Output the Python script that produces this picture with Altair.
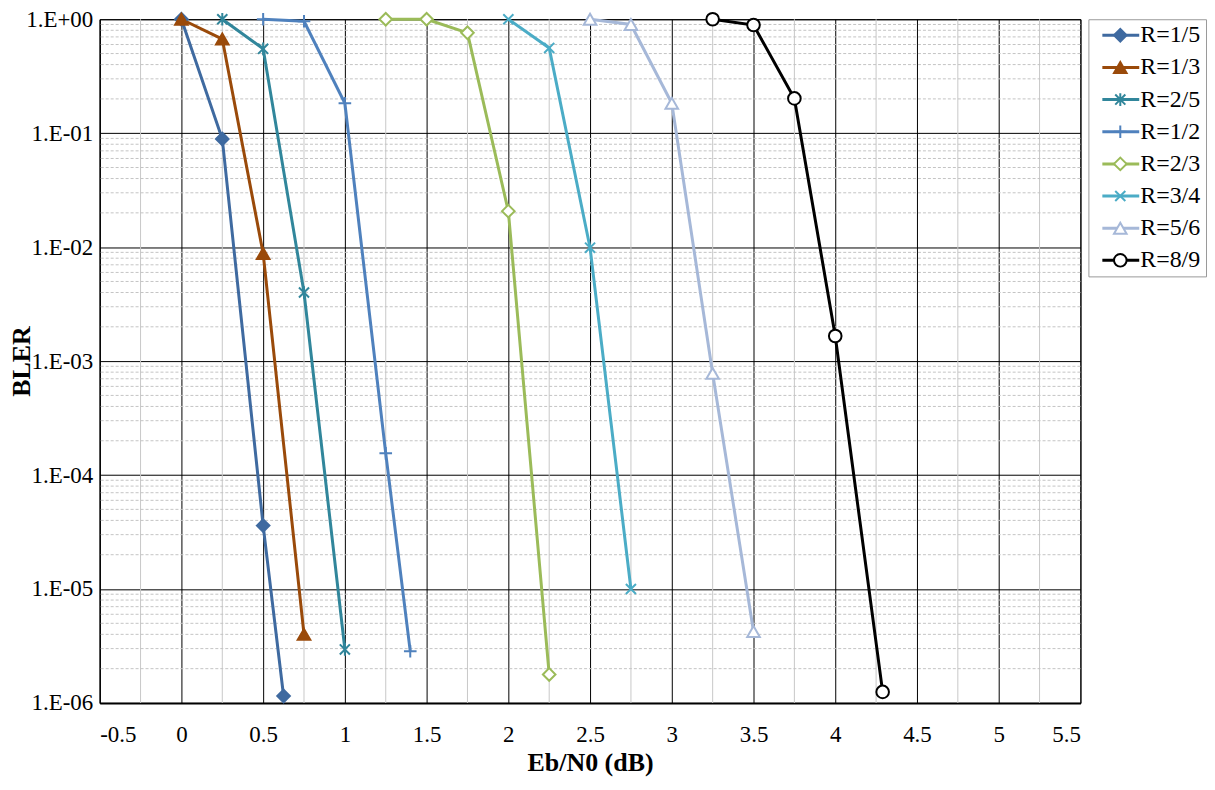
import altair as alt
import pandas as pd

series = ["R=1/5", "R=1/3", "R=2/5", "R=1/2", "R=2/3", "R=3/4", "R=5/6", "R=8/9"]
colors = ["#3F6AA0", "#9A4A0A", "#31869B", "#4F81BD", "#9BBB59", "#4BACC6", "#A6B8D8", "#000000"]
shapes = [
    "diamond",
    "triangle-up",
    "M0,-1L0,1M-0.8,-0.8L0.8,0.8M-0.8,0.8L0.8,-0.8",
    "M-1,0L1,0M0,-1L0,1",
    "diamond",
    "M-0.8,-0.8L0.8,0.8M-0.8,0.8L0.8,-0.8",
    "triangle-up",
    "circle",
]
fills = ["#3F6AA0", "#9A4A0A", "white", "white", "white", "white", "white", "white"]

x_r15 = [0, 0.25, 0.5, 0.625]
y_r15 = [1.0, 0.089, 3.6e-5, 1.15e-6]
x_r13 = [0, 0.25, 0.5, 0.75]
y_r13 = [1.0, 0.67, 8.8e-3, 4.0e-6]
x_r25 = [0.25, 0.5, 0.75, 1.0]
y_r25 = [1.0, 0.55, 4.0e-3, 2.95e-6]
x_r12 = [0.5, 0.75, 1.0, 1.25, 1.4]
y_r12 = [1.0, 0.96, 0.183, 1.55e-4, 2.84e-6]
x_r23 = [1.25, 1.5, 1.75, 2.0, 2.25]
y_r23 = [1.0, 1.0, 0.76, 0.0207, 1.78e-6]
x_r34 = [2.0, 2.25, 2.5, 2.75]
y_r34 = [1.0, 0.56, 9.9e-3, 1.0e-5]
x_r56 = [2.5, 2.75, 3.0, 3.25, 3.5]
y_r56 = [1.0, 0.9, 0.183, 7.8e-4, 4.24e-6]
x_r89 = [3.25, 3.5, 3.75, 4.0, 4.29]
y_r89 = [1.0, 0.89, 0.202, 1.66e-3, 1.25e-6]

x_ticks = [-0.5, 0, 0.5, 1, 1.5, 2, 2.5, 3, 3.5, 4, 4.5, 5, 5.5]
x_minor = [-0.25, 0.25, 0.75, 1.25, 1.75, 2.25, 2.75, 3.25, 3.75, 4.25, 4.75, 5.25]
y_ticks = [1e-6, 1e-5, 1e-4, 1e-3, 1e-2, 1e-1, 1]
y_minor = [m * d for d in [1e-6, 1e-5, 1e-4, 1e-3, 1e-2, 1e-1] for m in range(2, 10)]

rows = []
for name, xs_, ys_ in [
    ("R=1/5", x_r15, y_r15), ("R=1/3", x_r13, y_r13), ("R=2/5", x_r25, y_r25),
    ("R=1/2", x_r12, y_r12), ("R=2/3", x_r23, y_r23), ("R=3/4", x_r34, y_r34),
    ("R=5/6", x_r56, y_r56), ("R=8/9", x_r89, y_r89),
]:
    for xv, yv in zip(xs_, ys_):
        rows.append({"series": name, "ebn0": xv, "bler": yv})
df = pd.DataFrame(rows)

FONT = "Liberation Serif"
color_scale = alt.Scale(domain=series, range=colors)
shape_scale = alt.Scale(domain=series, range=shapes)
fill_scale = alt.Scale(domain=series, range=fills)

xs = alt.Scale(domain=[-0.5, 5.5], nice=False, zero=False)
ys = alt.Scale(type="log", domain=[1e-6, 1], nice=False)

minor_x = alt.Chart(pd.DataFrame({"v": x_minor})).mark_rule(color="#c8c8c8", strokeWidth=1).encode(
    x=alt.X("v:Q", scale=xs)
)
minor_y = alt.Chart(pd.DataFrame({"v": y_minor})).mark_rule(
    color="#c4c4c4", strokeWidth=1, strokeDash=[3, 2]
).encode(y=alt.Y("v:Q", scale=ys))

base = alt.Chart(df).encode(
    x=alt.X(
        "ebn0:Q", scale=xs,
        axis=alt.Axis(
            values=x_ticks, title="Eb/N0 (dB)", grid=True, gridColor="#000000", gridWidth=1,
            ticks=False, labelPadding=21, labelExpr="'' + datum.value",
            domainColor="#000000", domainWidth=2, titlePadding=3,
        ),
    ),
    y=alt.Y(
        "bler:Q", scale=ys,
        axis=alt.Axis(
            values=y_ticks, title="BLER", grid=True, gridColor="#000000", gridWidth=1,
            ticks=False, labelPadding=7,
            labelExpr="datum.value >= 1 ? '1.E+00' : '1.E-0' + round(-log(datum.value) / LN10)",
            domainColor="#000000", domainWidth=1, titlePadding=-9,
        ),
    ),
)

lines = base.mark_line(strokeWidth=3).encode(
    color=alt.Color("series:N", scale=color_scale, legend=None),
    detail="series:N",
)
points = base.mark_point(filled=False, strokeWidth=2, size=160, opacity=1).encode(
    color=alt.Color("series:N", scale=color_scale, legend=None),
    shape=alt.Shape("series:N", scale=shape_scale, legend=None),
    fill=alt.Fill("series:N", scale=fill_scale, legend=None),
)

main = alt.layer(minor_x, minor_y, lines, points).properties(width=984, height=686)

leg_df = pd.DataFrame({"series": series})
leg_y = alt.Y("series:N", sort=series, axis=None, scale=alt.Scale(type="point", padding=0.5))
leg_base = alt.Chart(leg_df)
leg_line = leg_base.mark_rule(strokeWidth=3).encode(
    x=alt.value(14), x2=alt.value(51), y=leg_y,
    color=alt.Color("series:N", scale=color_scale, legend=None),
)
leg_pt = leg_base.mark_point(filled=False, strokeWidth=2, size=160, opacity=1).encode(
    x=alt.value(32), y=leg_y,
    color=alt.Color("series:N", scale=color_scale, legend=None),
    shape=alt.Shape("series:N", scale=shape_scale, legend=None),
    fill=alt.Fill("series:N", scale=fill_scale, legend=None),
)
leg_txt = leg_base.mark_text(align="left", baseline="middle", font=FONT, fontSize=24, color="#000000").encode(
    x=alt.value(52), y=leg_y, text="series:N"
)
legend = alt.layer(leg_line, leg_pt, leg_txt).properties(
    width=118, height=258, view=alt.ViewBackground(stroke="#9a9a9a", strokeWidth=1)
)

chart = alt.hconcat(main, legend, spacing=8, bounds="flush").properties(
    padding={"left": 0, "top": -2, "right": 0, "bottom": 0}
).configure_view(stroke="#000000").configure_axis(
    labelFont=FONT, labelFontSize=23, labelColor="#000000",
    titleFont=FONT, titleFontSize=26, titleFontWeight="bold", titleColor="#000000",
)

chart.save("out.html", embed_options={"renderer": "svg", "actions": False})
